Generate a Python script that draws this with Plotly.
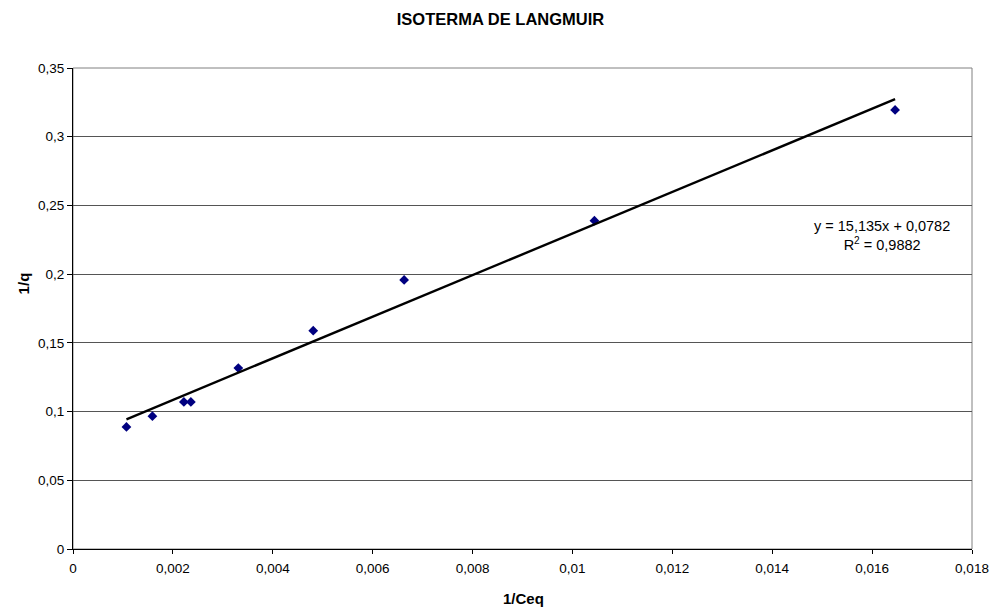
import plotly.graph_objects as go

# Linearised Langmuir data: 1/Ceq vs 1/q
inv_ceq = [0.00107, 0.00159, 0.00222, 0.00236, 0.00331, 0.00481, 0.00663, 0.01044, 0.01646]
inv_q = [0.0888, 0.0966, 0.1070, 0.1070, 0.1317, 0.1589, 0.1958, 0.2389, 0.3195]

# Linear fit reported on the chart
slope = 15.135
intercept = 0.0782
r_squared = 0.9882

x_ticks = [0, 0.002, 0.004, 0.006, 0.008, 0.01, 0.012, 0.014, 0.016, 0.018]
x_tick_text = ["0", "0,002", "0,004", "0,006", "0,008", "0,01", "0,012", "0,014", "0,016", "0,018"]
y_ticks = [0, 0.05, 0.1, 0.15, 0.2, 0.25, 0.3, 0.35]
y_tick_text = ["0", "0,05", "0,1", "0,15", "0,2", "0,25", "0,3", "0,35"]

x_fit = [min(inv_ceq), max(inv_ceq)]
y_fit = [slope * v + intercept for v in x_fit]

font_family = "Liberation Sans, Arial, sans-serif"


def comma(v):
    return str(v).replace(".", ",")


fig = go.Figure()
fig.add_trace(go.Scatter(
    x=inv_ceq, y=inv_q, mode="markers",
    marker=dict(symbol="diamond", size=7.5, color="#000080"),
    showlegend=False, cliponaxis=False,
))
fig.add_trace(go.Scatter(
    x=x_fit, y=y_fit, mode="lines",
    line=dict(color="#000000", width=2.4),
    showlegend=False,
))

# gray frame around the plot area (top/right visible)
fig.add_shape(type="rect", xref="x domain", yref="y domain", x0=0, x1=1, y0=0, y1=1,
              line=dict(color="#808080", width=1), layer="below")

# trendline equation
fig.add_annotation(
    x=0.8996, y=0.651, xref="paper", yref="paper", xanchor="center", yanchor="middle",
    text=f"y = {comma(slope)}x + {comma(intercept)}<br>R<sup>2</sup> = {comma(r_squared)}",
    showarrow=False, align="center",
    font=dict(family=font_family, size=14.5, color="#000000"),
)

# axis titles
fig.add_annotation(
    x=0.501, y=-0.102, xref="paper", yref="paper", xanchor="center", yanchor="middle",
    text="<b>1/Ceq</b>", showarrow=False,
    font=dict(family=font_family, size=15, color="#000000"),
)
fig.add_annotation(
    x=-0.0552, y=0.553, xref="paper", yref="paper", xanchor="center", yanchor="middle",
    text="<b>1/q</b>", showarrow=False, textangle=-90,
    font=dict(family=font_family, size=15, color="#000000"),
)

fig.update_layout(
    width=1001, height=610,
    margin=dict(l=73, r=22, t=68, b=61),
    paper_bgcolor="white", plot_bgcolor="white",
    separators=", ",
    font=dict(family=font_family, size=13.5, color="#000000"),
    title=dict(text="<b>ISOTERMA DE LANGMUIR</b>", x=0.5, xanchor="center",
               y=1 - 19 / 610, yanchor="middle",
               font=dict(family=font_family, size=16.5, color="#000000")),
    xaxis=dict(
        range=[0, 0.018], tickvals=x_ticks, ticktext=x_tick_text,
        showgrid=False, zeroline=False,
        showline=True, linecolor="#000000", linewidth=1,
        ticks="outside", ticklen=4, tickcolor="#000000",
        ticklabelstandoff=3,
    ),
    yaxis=dict(
        range=[0, 0.35], tickvals=y_ticks, ticktext=y_tick_text,
        showgrid=True, gridcolor="#555555", gridwidth=1, zeroline=False,
        showline=True, linecolor="#000000", linewidth=1,
        ticks="outside", ticklen=5, tickcolor="#000000",
    ),
)

fig.write_html("out.html")
